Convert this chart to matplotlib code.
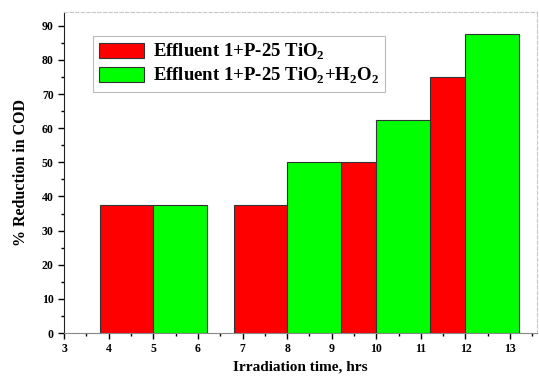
import numpy as np
import matplotlib.pyplot as plt
from matplotlib.ticker import MultipleLocator

# dados
red_left = [3.8, 6.8, 9.2, 11.2]
red_vals = [37.5, 37.5, 50.0, 75.0]
green_left = [5.0, 8.0, 10.0, 12.0]
green_vals = [37.5, 50.0, 62.5, 87.5]
bar_width = 1.2

labels = ['Effluent 1+P-25 TiO$_\\mathregular{2}$',
          'Effluent 1+P-25 TiO$_\\mathregular{2}$+H$_\\mathregular{2}$O$_\\mathregular{2}$']

plt.rcParams['font.family'] = ['Liberation Serif', 'DejaVu Serif']
plt.rcParams['font.weight'] = 'bold'
plt.rcParams['mathtext.fontset'] = 'custom'
plt.rcParams['mathtext.rm'] = 'Liberation Serif:bold'

fig = plt.figure(figsize=(5.39, 3.78), dpi=100)
ax = fig.add_axes([0.119, 0.119, 0.877, 0.849])

ax.bar(red_left, red_vals, width=bar_width, align='edge', color='#ff0000',
       edgecolor='#333333', linewidth=0.8, label=labels[0], zorder=2)
ax.bar(green_left, green_vals, width=bar_width, align='edge', color='#00ff00',
       edgecolor='#333333', linewidth=0.8, label=labels[1], zorder=3)

ax.set_xlim(3, 13.6)
ax.set_ylim(0, 94)
ax.xaxis.set_major_locator(MultipleLocator(1))
ax.xaxis.set_minor_locator(MultipleLocator(0.5))
ax.yaxis.set_major_locator(MultipleLocator(10))
ax.yaxis.set_minor_locator(MultipleLocator(5))
ax.tick_params(which='major', direction='out', length=4, width=1, labelsize=8.5)
ax.tick_params(which='minor', direction='out', length=2, width=1)

for s in ['top', 'right']:
    ax.spines[s].set_color('#c8c8c8')
    ax.spines[s].set_linestyle((0, (3, 2)))
ax.spines['bottom'].set_color('#888888')
ax.spines['left'].set_color('#222222')

ax.set_xlabel('Irradiation time, hrs', fontsize=11, fontweight='bold', labelpad=4)
ax.set_ylabel('% Reduction in COD', fontsize=11.5, fontweight='bold', labelpad=9)

leg = ax.legend(loc='upper left', bbox_to_anchor=(0.061, 0.925), fontsize=13.5,
                frameon=True, fancybox=False, edgecolor='#aaaaaa',
                handlelength=2.4, handleheight=0.9, handletextpad=0.5,
                borderpad=0.3, labelspacing=0.2, borderaxespad=0)
leg.get_frame().set_linewidth(0.8)

fig.savefig('out.png', dpi=100)
